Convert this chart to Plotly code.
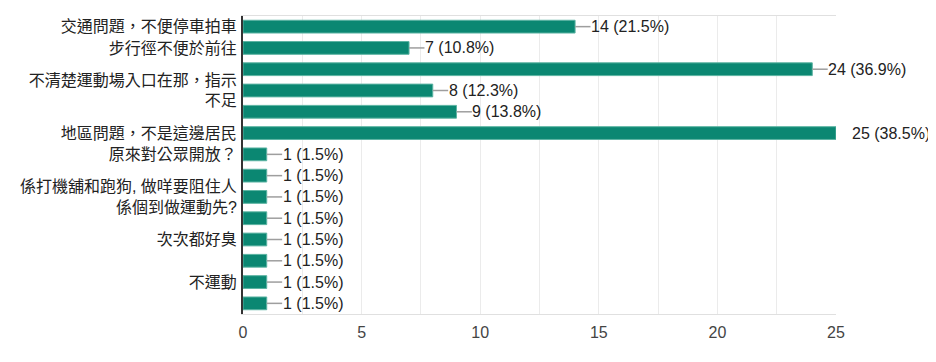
import plotly.graph_objects as go

# Data
values = [14, 7, 24, 8, 9, 25, 1, 1, 1, 1, 1, 1, 1, 1]
percents = ["21.5%", "10.8%", "36.9%", "12.3%", "13.8%", "38.5%",
            "1.5%", "1.5%", "1.5%", "1.5%", "1.5%", "1.5%", "1.5%", "1.5%"]
# Only labels that are visible in the chart (index -> text)
label_index = [0, 1, 3, 5, 6, 8, 10, 12]
label_text = [
    "交通問題，不便停車拍車",
    "步行徑不便於前往",
    "不清楚運動場入口在那，指示<br>不足",
    "地區問題，不是這邊居民",
    "原來對公眾開放？",
    "係打機舖和跑狗, 做咩要阻住人<br>係個到做運動先?",
    "次次都好臭",
    "不運動",
]
x_ticks = [0, 5, 10, 15, 20, 25]

positions = list(range(len(values)))
FONT = "Arial, 'Liberation Sans', 'Noto Sans CJK TC', sans-serif"

fig = go.Figure()
fig.add_trace(go.Bar(
    x=values, y=positions, orientation="h",
    marker=dict(color="#0b8772", line=dict(color="#5bb3a2", width=1)),
    hoverinfo="skip",
))

LEAD = 0.65
shapes = []
annotations = []
for i, (v, p) in enumerate(zip(values, percents)):
    shapes.append(dict(type="line", xref="x", yref="y", x0=v, x1=v + LEAD,
                       y0=i, y1=i, line=dict(color="#9e9e9e", width=1.5)))
    annotations.append(dict(x=v, y=i, xref="x", yref="y",
                            text=f"{v} ({p})", showarrow=False,
                            xanchor="left", yanchor="middle", xshift=14,
                            font=dict(size=16, color="#222222", family=FONT)))

fig.update_layout(
    width=936, height=362,
    margin=dict(l=235, r=108, t=8, b=56),
    paper_bgcolor="white", plot_bgcolor="white",
    showlegend=False, bargap=0.4,
    shapes=shapes, annotations=annotations,
    font=dict(family=FONT, size=16, color="#222222"),
    xaxis=dict(range=[0, 25], tickvals=x_ticks, ticktext=[str(t) for t in x_ticks],
               showgrid=True, gridcolor="#ebebeb", gridwidth=1,
               minor=dict(dtick=2.5, showgrid=True, gridcolor="#ebebeb", gridwidth=1),
               zeroline=False, showline=True, linecolor="#e0e0e0", linewidth=1,
               mirror=True, ticks="", ticklabelstandoff=4,
               tickfont=dict(size=16, color="#444444"), fixedrange=True),
    yaxis=dict(range=[13.5, -0.5], tickvals=label_index, ticktext=label_text,
               showgrid=False, zeroline=False, showline=True, linecolor="#333333",
               linewidth=2, ticks="", ticklabelstandoff=1,
               tickfont=dict(size=16, color="#222222"), fixedrange=True),
)

fig.write_html("out.html")
